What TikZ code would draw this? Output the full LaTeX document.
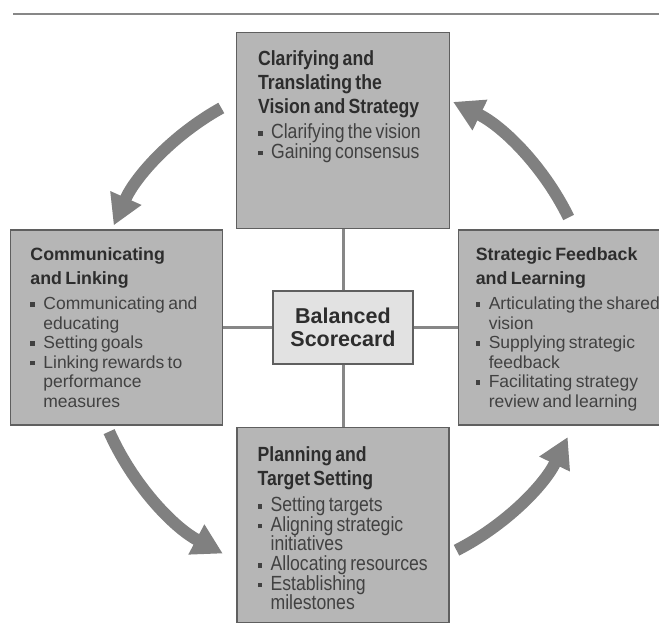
\documentclass[tikz,border=0pt]{standalone}
\usepackage{fontspec}
\setmainfont{Liberation Sans}
\newfontfamily\narrowfont[FakeStretch=0.86]{Liberation Sans}
\usetikzlibrary{calc,positioning,arrows.meta}
\setlength{\parindent}{0pt}

\definecolor{boxgray}{RGB}{182,182,182}
\definecolor{hubgray}{RGB}{226,226,226}
\definecolor{edgegray}{RGB}{95,95,95}
\definecolor{linegray}{RGB}{135,135,135}
\definecolor{arrowgray}{RGB}{128,128,128}
\definecolor{headgray}{RGB}{45,45,45}
\definecolor{itemgray}{RGB}{65,65,65}

\newcommand{\bitem}[1]{\par\hangindent=13pt\hangafter=1\noindent\makebox[13pt][l]{\rule[3pt]{4.5pt}{4.5pt}}#1}
\newcommand{\widehead}{\fontsize{17.8}{24}\selectfont\bfseries\color{headgray}}
\newcommand{\widebody}{\fontsize{17.5}{19.5}\selectfont\mdseries\color{itemgray}}
\newcommand{\narrowhead}{\narrowfont\fontsize{20.5}{24}\selectfont\bfseries\color{headgray}}
\newcommand{\narrowbody}{\narrowfont\fontsize{20.5}{19.6}\selectfont\mdseries\color{itemgray}}

\begin{document}
\begin{tikzpicture}[x=1pt,y=1pt,
  box/.style={draw=edgegray, line width=1.2pt, fill=boxgray, inner sep=0pt},
  hubbox/.style={draw=edgegray, line width=1.2pt, fill=hubgray, inner sep=0pt, align=center},
  boxtext/.style={anchor=north west, inner sep=0pt, text width=200pt},
  link/.style={draw=linegray, line width=3pt},
  turnarrow/.style={draw=arrowgray, line width=12pt, -{Triangle[width=32pt,length=30pt]}}]
  \useasboundingbox (0,0) rectangle (659,637);
  \draw[linegray, line width=2pt] (13,623) -- (659,623);

  \node[hubbox, minimum width=140pt, minimum height=73pt,
    font=\fontsize{21.5}{23.5}\selectfont\bfseries, text=headgray] (hub) at (343,309.5)
    {Balanced\\Scorecard};
  \node[box, minimum width=213pt, minimum height=196pt, above = 61pt of hub] (vision){};
  \node[box, minimum width=212pt, minimum height=195pt, left = 49pt of hub] (comm){};
  \node[box, minimum width=201pt, minimum height=195pt, right = 44pt of hub] (feedback){};
  \node[box, minimum width=212pt, minimum height=195pt, below = 62pt of hub] (plan){};

  \draw[link] (hub.north) -- (hub.north |- vision.south);
  \draw[link] (hub.south) -- (hub.south |- plan.north);
  \draw[link] (hub.west) -- (hub.west -| comm.east);
  \draw[link] (hub.east) -- (hub.east -| feedback.west);

  \node[boxtext] (visiontext) at ($(vision.north west)+(22,-18)$)
    {\narrowhead Clarifying and\newline Translating the\newline Vision and Strategy\par\vspace{6pt}
     \narrowbody\bitem{Clarifying the vision}\bitem{Gaining consensus}\par};
  \node[boxtext] (commtext) at ($(comm.north west)+(20,-18)$)
    {\widehead Communicating\newline and Linking\par\vspace{6pt}
     \widebody\bitem{Communicating and\newline educating}\bitem{Setting goals}\bitem{Linking rewards to\newline performance\newline measures}\par};
  \node[boxtext] (feedbacktext) at ($(feedback.north west)+(18,-18)$)
    {\widehead Strategic Feedback\newline and Learning\par\vspace{6pt}
     \widebody\bitem{Articulating the shared\newline vision}\bitem{Supplying strategic\newline feedback}\bitem{Facilitating strategy\newline review and learning}\par};
  \node[boxtext] (plantext) at ($(plan.north west)+(21,-20)$)
    {\narrowhead Planning and\newline Target Setting\par\vspace{6.5pt}
     \narrowbody\bitem{Setting targets}\bitem{Aligning strategic\newline initiatives}\bitem{Allocating resources}\bitem{Establishing\newline milestones}\par};

  % arrows round the hub
  \draw[turnarrow] ($(hub.center)+(119:251)$) arc[start angle=119, end angle=156, radius=251];
  \draw[turnarrow] ($(hub.center)+(204:256)$) arc[start angle=204, end angle=242, radius=256];
  \draw[turnarrow] ($(hub.center)+(297:250)$) arc[start angle=297, end angle=334, radius=250];
  \draw[turnarrow] ($(hub.center)+(26:251)$) arc[start angle=26, end angle=64, radius=251];
\end{tikzpicture}
\end{document}
